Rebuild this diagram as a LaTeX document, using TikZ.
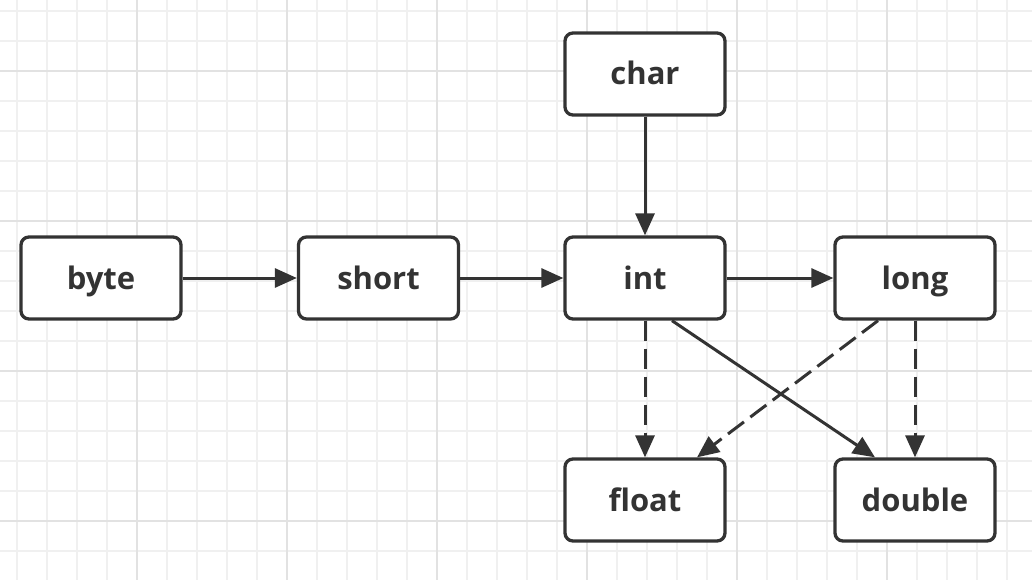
\documentclass[tikz,border=0pt]{standalone}
\usepackage{fontspec}
\setmainfont{Open Sans}[BoldFont={Open Sans Bold}]
\usetikzlibrary{arrows.meta,calc}
\definecolor{ink}{HTML}{333333}
\definecolor{minorgrid}{HTML}{F0F0F0}
\definecolor{majorgrid}{HTML}{E2E2E2}
\tikzset{
  typebox/.style={draw=ink, fill=white, line width=3.3pt, rounded corners=8pt,
    minimum width=160pt, minimum height=82pt, inner sep=0pt,
    text height=29pt, text depth=7pt,
    font=\fontsize{31}{36}\selectfont\bfseries, text=ink},
  conv/.style={draw=ink, line width=3pt, -{Triangle[length=22pt,width=19pt]}},
  lossy/.style={conv, dash pattern=on 20pt off 8pt}
}
\begin{document}
\begin{tikzpicture}[x=1pt,y=-1pt]
\useasboundingbox (0,0) rectangle (1032,580);
\fill[white] (0,0) rectangle (1032,580);
\foreach \i in {0,...,34} {\draw[minorgrid, line width=1.2pt] (17+30*\i,0) -- (17+30*\i,580);}
\foreach \j in {0,...,19} {\draw[minorgrid, line width=1.2pt] (0,11+30*\j) -- (1032,11+30*\j);}
\foreach \i in {0,...,6} {\draw[majorgrid, line width=1.2pt] (137+150*\i,0) -- (137+150*\i,580);}
\foreach \j in {0,...,3} {\draw[majorgrid, line width=1.2pt] (0,71+150*\j) -- (1032,71+150*\j);}

\node[typebox] (byte) at (101,278) {byte};
\node[typebox] (short) at (378.5,278) {short};
\node[typebox] (int) at (645,278) {int};
\node[typebox] (long) at (915,278) {long};
\node[typebox] (char) at (645,74) {char};
\node[typebox] (float) at (645,500) {float};
\node[typebox] (double) at (915,500) {double};

\draw[conv] (byte) -- (short);
\draw[conv] (short) -- (int);
\draw[conv] (int) -- (long);
\draw[conv] (char) -- (int);
\draw[lossy] (int) -- (float);
\draw[lossy] (long) -- (double);
\draw[conv] ($(int.south)+(27,0)$) -- ($(double.north)+(-40,0)$);
\draw[lossy] ($(long.south)+(-37,0)$) -- ($(float.north)+(52,0)$);
\end{tikzpicture}
\end{document}
